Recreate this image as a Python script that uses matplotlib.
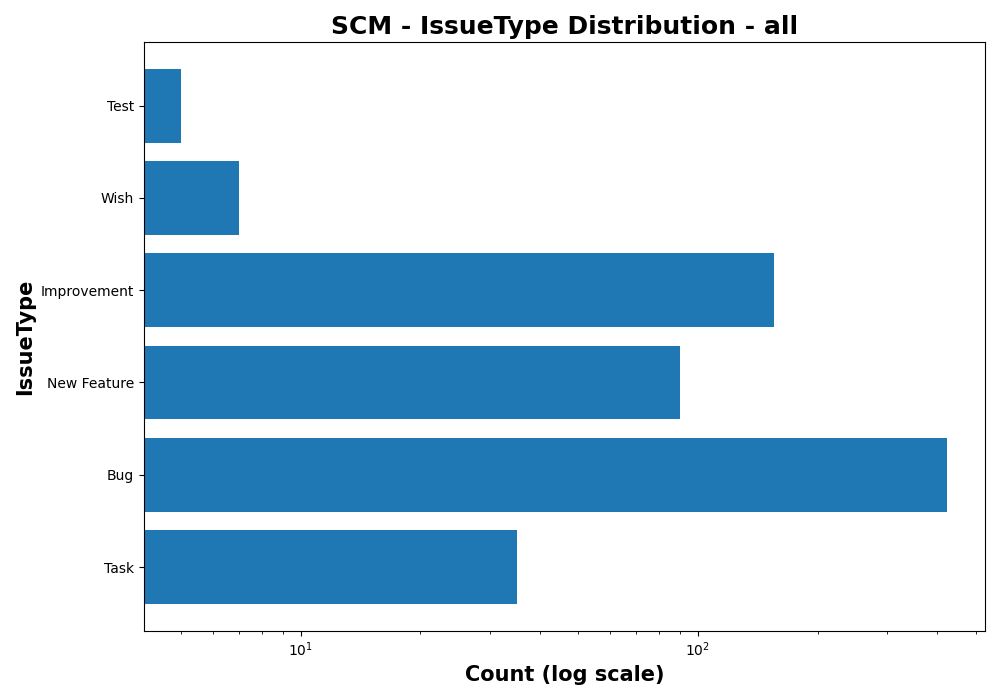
import matplotlib
matplotlib.use("Agg")
import matplotlib.pyplot as plt

issue_types = ["Task", "Bug", "New Feature", "Improvement", "Wish", "Test"]
counts = [35, 424, 90, 155, 7, 5]

fig, ax = plt.subplots(figsize=(10, 7), dpi=100)
fig.subplots_adjust(left=0.144, right=0.985, top=0.94, bottom=0.099)
ax.barh(issue_types, counts, color="#1f77b4", left=0.001)
ax.set_xscale("log")
ax.set_xlim(4.03, 528)
ax.set_title("SCM - IssueType Distribution - all", fontsize=18, fontweight="bold")
ax.set_xlabel("Count (log scale)", fontsize=15, fontweight="bold")
ax.set_ylabel("IssueType", fontsize=15, fontweight="bold")
fig.savefig("out.png")
